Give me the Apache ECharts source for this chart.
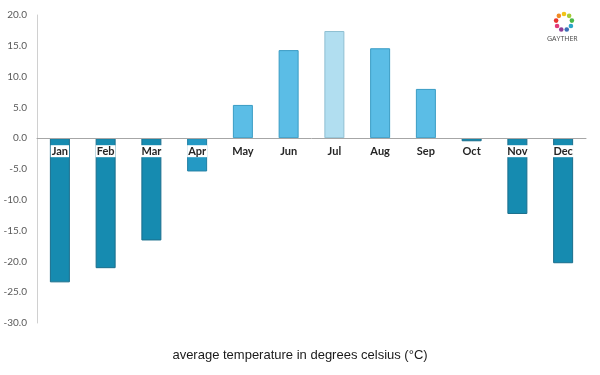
<!DOCTYPE html>
<html>
<head>
<meta charset="utf-8">
<script src="https://cdn.jsdelivr.net/npm/echarts@6/dist/echarts.min.js"></script>
<style>
  html, body { margin: 0; padding: 0; background: #fff; }
  #chart { width: 600px; height: 375px; }
</style>
</head>
<body>
<div id="chart"></div>
<script>
// 月份
const months = ['Jan', 'Feb', 'Mar', 'Apr', 'May', 'Jun', 'Jul', 'Aug', 'Sep', 'Oct', 'Nov', 'Dec'];
// 平均气温
const temps = [-23.4, -21.1, -16.6, -5.4, 5.4, 14.3, 17.4, 14.6, 8.0, -0.5, -12.3, -20.3];
// 柱子颜色
const barColors = ['#168bb0', '#168bb0', '#168bb0', '#2499c4', '#5bbde6', '#5bbde6', '#b1def0', '#5bbde6', '#5bbde6', '#168bb0', '#168bb0', '#168bb0'];
const borderColors = ['#1a6e8c', '#1a6e8c', '#1a6e8c', '#1f7ea3', '#3a9cc4', '#3a9cc4', '#8fbfd2', '#3a9cc4', '#3a9cc4', '#1a6e8c', '#1a6e8c', '#1a6e8c'];
const yMin = -30;
const yMax = 20;

const logoColors = ['#f2c318', '#a6cc38', '#4bb848', '#2aa6c8', '#3a6fb6', '#8e3e98', '#e23a78', '#e8352e', '#f08a24'];

const gridTop = 15;
const gridBottom = 52;
const plotHeight = 375 - gridTop - gridBottom;
// x轴放到0刻度处
const zeroOffset = -plotHeight * (0 - yMin) / (yMax - yMin);

const myChart = echarts.init(document.getElementById('chart'));

const logo = logoColors.map((c, i) => {
  const a = -Math.PI / 2 + i * 2 * Math.PI / logoColors.length;
  return {
    type: 'circle',
    shape: { cx: 564 + Math.cos(a) * 8, cy: 22 + Math.sin(a) * 8, r: 2.3 },
    style: { fill: c }
  };
});

const option = {
  animation: false,
  grid: { left: 37, right: 14, top: gridTop, bottom: gridBottom },
  title: {
    text: 'average temperature in degrees celsius (°C)',
    left: 'center',
    bottom: 8,
    textStyle: { fontFamily: 'Liberation Sans', fontSize: 13, fontWeight: 'normal', color: '#1a1a1a' }
  },
  graphic: [
    ...logo,
    {
      type: 'text',
      left: 547, top: 35,
      style: { text: 'GAYTHER', font: '7px "Open Sans"', fill: '#444' }
    }
  ],
  xAxis: {
    type: 'category',
    data: months,
    offset: zeroOffset,
    z: 10,
    axisLine: { onZero: false, lineStyle: { color: '#a6a6a6' } },
    axisTick: { show: false },
    axisLabel: {
      color: '#262626',
      fontFamily: 'Lato',
      fontWeight: 'bold',
      fontSize: 11,
      margin: 7,
      backgroundColor: '#fff',
      padding: [1, 1, 0, 1]
    }
  },
  yAxis: {
    type: 'value',
    min: yMin,
    max: yMax,
    interval: 5,
    splitLine: { show: false },
    axisTick: { show: false },
    axisLine: { show: true, lineStyle: { color: '#d0d0d0' } },
    axisLabel: {
      color: '#595959',
      fontFamily: 'Lato',
      fontSize: 10,
      margin: 10,
      formatter: v => v.toFixed(1)
    }
  },
  series: [{
    type: 'bar',
    barWidth: 20,
    z: 1,
    data: temps.map((v, i) => ({
      value: v,
      itemStyle: { color: barColors[i], borderColor: borderColors[i], borderWidth: 1 }
    }))
  }]
};
myChart.setOption(option);
</script>
</body>
</html>
